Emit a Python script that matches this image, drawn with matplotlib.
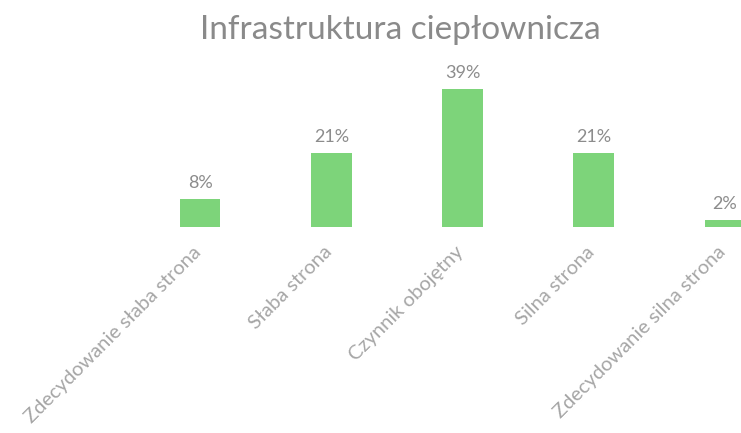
import matplotlib.pyplot as plt
import matplotlib.transforms as mtransforms
import numpy as np

# Data
categories = ['Zdecydowanie słaba strona', 'Słaba strona', 'Czynnik obojętny',
              'Silna strona', 'Zdecydowanie silna strona']
values = [8, 21, 39, 21, 2]
title = 'Infrastruktura ciepłownicza'

plt.rcParams['font.family'] = ['Lato', 'DejaVu Sans']

fig = plt.figure(figsize=(7.41, 4.33), dpi=100)
# axes deliberately runs past the right edge, the last bar is cut like in the source
ax = fig.add_axes([134.5 / 741, (433 - 227) / 433, 656 / 741, 138 / 433])

x = np.arange(len(categories))
bars = ax.bar(x, values, width=0.31, color='#7dd47a', clip_on=False)

for xi, v in zip(x, values):
    ax.text(xi, v + 2.2, '{}%'.format(v), ha='center', va='bottom',
            fontsize=13, color='#8c8c8c', clip_on=False)

ax.set_xlim(-0.5, 4.5)
ax.set_ylim(0, 39)
ax.set_xticks(x)
ax.set_xticklabels(categories, rotation=45, ha='right', va='center',
                   rotation_mode='anchor', fontsize=14.5, color='#a6a6a6')
ax.tick_params(axis='x', length=0, pad=16)
shift = mtransforms.ScaledTranslation(-2 / 100, 0, fig.dpi_scale_trans)
for lbl in ax.get_xticklabels():
    lbl.set_transform(lbl.get_transform() + shift)
ax.set_yticks([])
for s in ax.spines.values():
    s.set_visible(False)

fig.text(0.54, 0.93, title, ha='center', va='center', fontsize=24, color='#8a8a8a')

fig.savefig('out.png', dpi=100)
